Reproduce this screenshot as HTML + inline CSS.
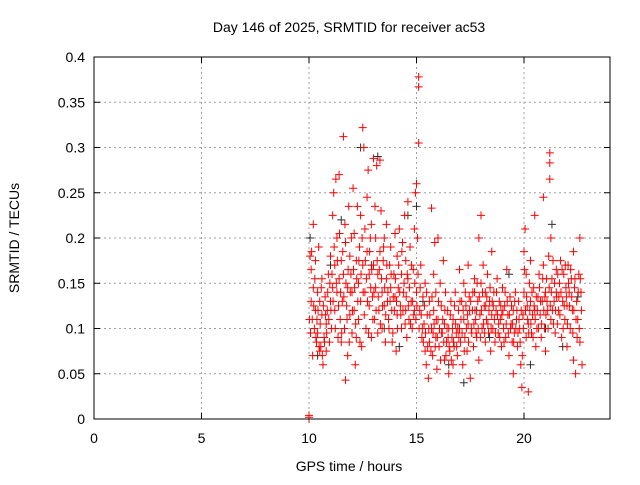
<!DOCTYPE html>
<html><head><meta charset="utf-8"><style>
body{margin:0;background:#fff;}
svg text{font-family:"Liberation Sans",sans-serif;font-size:14px;fill:#000;}
</style></head><body>
<svg id="chart" width="640" height="480" xmlns="http://www.w3.org/2000/svg">
<text x="349" y="32" text-anchor="middle">Day 146 of 2025, SRMTID for receiver ac53</text>
<text x="349" y="471" text-anchor="middle">GPS time / hours</text>
<text transform="translate(19,238) rotate(-90)" text-anchor="middle">SRMTID / TECUs</text>
<g id="grid"></g><g id="ticks"></g><g id="marks"></g>
<rect x="94" y="57" width="516" height="362" fill="none" stroke="#000" stroke-width="1"/>
</svg>
<script>
const xTicks=[0,5,10,15,20];
const yTicks=[0,0.05,0.1,0.15,0.2,0.25,0.3,0.35,0.4];
const yTickLabels=["0","0.05","0.1","0.15","0.2","0.25","0.3","0.35","0.4"];
const redPoints=[[10,0],[10,0.002],[10,0.004],[10.05,.18],[10.1,.13],[10.1,.165],[10.15,.11],[10.2,.145],[10.2,.215],[10.25,.10],[10.3,.12],[10.3,.175],[10.35,.085],[10.4,.095],[10.4,.14],[10.45,.19],[10.5,.075],[10.5,.13],[10.55,.08],[10.6,.115],[10.6,.155],[10.65,.06],[10.7,.09],[10.75,.135],[10.8,.105],[10.8,.075],[10.85,.12],[10.9,.16],[10.95,.085],[11.0,.13],[11.0,.18],[11.05,.1],[11.1,.145],[11.1,.225],[11.15,.25],[11.2,.17],[11.2,.12],[11.25,.265],[11.3,.2],[11.3,.14],[11.35,.09],[11.4,.155],[11.4,.27],[11.45,.11],[11.5,.175],[11.5,.085],[11.55,.13],[11.6,.312],[11.6,.16],[11.65,.1],[11.7,.043],[11.7,.195],[11.75,.125],[11.8,.145],[11.8,.07],[11.85,.235],[11.9,.115],[11.9,.18],[11.95,.16],[12.0,.095],[12.0,.14],[12.05,.255],[12.1,.205],[12.1,.12],[12.15,.06],[12.2,.175],[12.2,.09],[12.25,.235],[12.3,.15],[12.3,.11],[12.35,.19],[12.4,.13],[12.4,.225],[12.45,.08],[12.5,.322],[12.5,.17],[12.55,.3],[12.6,.21],[12.6,.14],[12.65,.1],[12.7,.185],[12.7,.245],[12.75,.275],[12.8,.125],[12.8,.16],[12.85,.2],[12.9,.09],[12.9,.215],[12.95,.135],[13.0,.17],[13.0,.288],[13.05,.11],[13.1,.2],[13.1,.145],[13.15,.28],[13.2,.16],[13.2,.095],[13.25,.12],[13.3,.185],[13.3,.286],[13.35,.23],[13.4,.14],[13.4,.1],[13.45,.175],[13.5,.125],[13.5,.2],[13.55,.085],[13.6,.155],[13.6,.215],[13.65,.13],[13.7,.11],[13.75,.17],[13.8,.145],[13.8,.19],[13.85,.12],[13.9,.095],[13.95,.16],[14.0,.135],[14.0,.205],[14.05,.075],[14.1,.115],[14.1,.18],[14.15,.145],[14.2,.21],[14.25,.125],[14.3,.16],[14.3,.1],[14.35,.195],[14.4,.14],[14.45,.225],[14.5,.12],[14.5,.175],[14.55,.09],[14.6,.155],[14.6,.24],[14.65,.11],[14.7,.19],[14.75,.13],[14.8,.1],[14.85,.165],[14.9,.21],[14.9,.12],[14.95,.25],[15.0,.26],[15.0,.14],[15.05,.2],[15.1,.378],[15.1,.367],[15.1,.305],[15.15,.12],[15.2,.17],[15.25,.09],[15.3,.135],[15.35,.105],[15.4,.075],[15.4,.15],[15.45,.06],[15.5,.115],[15.55,.045],[15.6,.13],[15.6,.085],[15.7,.1],[15.7,.233],[15.75,.07],[15.8,.16],[15.8,.12],[15.85,.195],[15.9,.09],[15.9,.14],[15.95,.055],[16.0,.11],[16.0,.2],[16.05,.08],[16.1,.15],[16.15,.125],[16.2,.095],[16.25,.175],[16.3,.065],[16.3,.105],[16.35,.14],[16.4,.085],[16.45,.12],[16.5,.05],[16.5,.1],[16.55,.075],[16.6,.13],[16.65,.09],[16.7,.06],[16.7,.11],[16.75,.08],[16.8,.14],[16.85,.095],[16.9,.07],[16.95,.12],[17.0,.1],[17.0,.165],[17.05,.085],[17.1,.13],[17.15,.06],[17.2,.11],[17.2,.15],[17.25,.09],[17.3,.125],[17.35,.075],[17.4,.17],[17.4,.105],[17.45,.135],[17.5,.045],[17.55,.1],[17.6,.12],[17.65,.08],[17.7,.155],[17.7,.14],[17.75,.11],[17.8,.09],[17.85,.13],[17.9,.2],[17.9,.065],[17.95,.115],[18.0,.225],[18.0,.15],[18.05,.1],[18.1,.17],[18.15,.125],[18.2,.085],[18.2,.14],[18.25,.11],[18.3,.16],[18.35,.095],[18.4,.13],[18.45,.075],[18.5,.115],[18.5,.185],[18.55,.1],[18.6,.14],[18.65,.085],[18.7,.12],[18.75,.155],[18.8,.095],[18.85,.13],[18.9,.11],[18.95,.08],[19.0,.145],[19.05,.1],[19.1,.125],[19.15,.09],[19.2,.165],[19.25,.115],[19.3,.07],[19.35,.135],[19.4,.105],[19.45,.085],[19.5,.12],[19.5,.05],[19.55,.095],[19.6,.14],[19.65,.11],[19.7,.08],[19.75,.13],[19.8,.1],[19.85,.06],[19.9,.035],[19.95,.115],[20.0,.14],[20.0,.185],[20.05,.21],[20.1,.09],[20.1,.16],[20.15,.125],[20.2,.03],[20.2,.105],[20.25,.15],[20.3,.13],[20.3,.175],[20.35,.095],[20.4,.115],[20.45,.145],[20.5,.12],[20.5,.225],[20.55,.08],[20.6,.1],[20.65,.135],[20.7,.16],[20.75,.115],[20.8,.09],[20.85,.13],[20.9,.17],[20.9,.245],[20.95,.1],[21.0,.14],[21.0,.075],[21.05,.155],[21.1,.12],[21.15,.18],[21.2,.294],[21.2,.283],[21.2,.265],[21.25,.2],[21.25,.11],[21.3,.155],[21.35,.175],[21.4,.13],[21.45,.095],[21.5,.14],[21.5,.165],[21.55,.105],[21.6,.12],[21.65,.15],[21.7,.175],[21.75,.09],[21.8,.13],[21.85,.16],[21.9,.11],[21.95,.145],[22.0,.125],[22.0,.08],[22.05,.17],[22.1,.14],[22.15,.1],[22.2,.155],[22.25,.12],[22.3,.065],[22.3,.185],[22.35,.145],[22.4,.05],[22.45,.13],[22.5,.11],[22.55,.16],[22.6,.085],[22.6,.2],[22.65,.14],[22.7,.06]];
const redPoints2=[[10.02,.11],[10.07,.095],[10.12,.185],[10.17,.07],[10.22,.125],[10.27,.155],[10.32,.09],[10.37,.11],[10.42,.12],[10.47,.08],[10.52,.105],[10.57,.145],[10.62,.07],[10.67,.125],[10.72,.085],[10.77,.115],[10.82,.095],[10.87,.14],[10.92,.11],[10.97,.15],[11.02,.12],[11.07,.16],[11.12,.13],[11.17,.19],[11.22,.1],[11.27,.15],[11.32,.175],[11.37,.125],[11.42,.205],[11.47,.14],[11.52,.095],[11.57,.185],[11.62,.135],[11.67,.215],[11.72,.15],[11.77,.11],[11.82,.165],[11.87,.085],[11.92,.14],[11.97,.2],[12.02,.12],[12.07,.165],[12.12,.145],[12.17,.105],[12.22,.155],[12.27,.13],[12.32,.175],[12.37,.085],[12.42,.16],[12.47,.2],[12.52,.14],[12.57,.115],[12.62,.175],[12.67,.155],[12.72,.13],[12.77,.095],[12.82,.185],[12.87,.145],[12.92,.165],[12.97,.11],[13.02,.14],[13.07,.235],[13.12,.12],[13.17,.175],[13.22,.135],[13.27,.165],[13.32,.105],[13.37,.155],[13.42,.125],[13.47,.19],[13.52,.145],[13.57,.115],[13.62,.17],[13.67,.14],[13.72,.1],[13.77,.13],[13.82,.16],[13.87,.085],[13.92,.135],[13.97,.12],[14.02,.155],[14.07,.13],[14.12,.1],[14.17,.17],[14.22,.14],[14.27,.115],[14.32,.185],[14.37,.12],[14.42,.15],[14.47,.105],[14.52,.135],[14.57,.16],[14.62,.125],[14.67,.145],[14.72,.105],[14.77,.17],[14.82,.13],[14.87,.115],[14.92,.15],[14.97,.11],[15.02,.125],[15.07,.16],[15.12,.1],[15.17,.145],[15.22,.115],[15.27,.1],[15.32,.085],[15.37,.125],[15.42,.095],[15.47,.14],[15.52,.08],[15.57,.1],[15.62,.115],[15.67,.075],[15.72,.135],[15.77,.095],[15.82,.105],[15.87,.08],[15.92,.11],[15.97,.09],[16.02,.13],[16.07,.1],[16.12,.065],[16.17,.095],[16.22,.11],[16.27,.085],[16.32,.12],[16.37,.07],[16.42,.1],[16.47,.09],[16.52,.08],[16.57,.115],[16.62,.065],[16.67,.1],[16.72,.085],[16.77,.125],[16.82,.105],[16.87,.08],[16.92,.1],[16.97,.09],[17.02,.13],[17.07,.11],[17.12,.095],[17.17,.12],[17.22,.075],[17.27,.14],[17.32,.1],[17.37,.115],[17.42,.085],[17.47,.12],[17.52,.13],[17.57,.095],[17.62,.14],[17.67,.105],[17.72,.12],[17.77,.095],[17.82,.15],[17.87,.1],[17.92,.135],[17.97,.09],[18.02,.12],[18.07,.14],[18.12,.105],[18.17,.095],[18.22,.125],[18.27,.135],[18.32,.105],[18.37,.12],[18.42,.145],[18.47,.1],[18.52,.13],[18.57,.125],[18.62,.11],[18.67,.095],[18.72,.14],[18.77,.115],[18.82,.105],[18.87,.09],[18.92,.125],[18.97,.115],[19.02,.12],[19.07,.085],[19.12,.14],[19.17,.105],[19.22,.13],[19.27,.095],[19.32,.115],[19.37,.1],[19.42,.125],[19.47,.105],[19.52,.085],[19.57,.13],[19.62,.1],[19.67,.12],[19.72,.095],[19.77,.11],[19.82,.085],[19.87,.12],[19.92,.07],[19.97,.1],[20.02,.165],[20.07,.12],[20.12,.135],[20.17,.11],[20.22,.095],[20.27,.12],[20.32,.105],[20.37,.14],[20.42,.09],[20.47,.125],[20.52,.11],[20.57,.135],[20.62,.12],[20.67,.1],[20.72,.145],[20.77,.13],[20.82,.105],[20.87,.155],[20.92,.12],[20.97,.135],[21.02,.115],[21.07,.13],[21.12,.1],[21.17,.145],[21.22,.125],[21.27,.14],[21.32,.12],[21.37,.105],[21.42,.15],[21.47,.12],[21.52,.135],[21.57,.16],[21.62,.135],[21.67,.115],[21.72,.14],[21.77,.165],[21.82,.1],[21.87,.125],[21.92,.17],[21.97,.135],[22.02,.105],[22.07,.15],[22.12,.125],[22.17,.165],[22.22,.135],[22.27,.095],[22.32,.12],[22.37,.155],[22.42,.11],[22.47,.09],[22.52,.14],[22.57,.1],[22.62,.155],[22.67,.12]];
const blackPoints=[[10.05,.2],[10.4,.07],[11.0,.17],[11.5,.22],[12.4,.3],[12.9,.17],[13.2,.29],[13.5,.1],[14.2,.08],[14.6,.225],[15.0,.235],[15.3,.13],[16.5,.06],[17.2,.04],[17.8,.12],[18.4,.09],[19.3,.16],[20.3,.06],[21.0,.1],[21.3,.215],[21.8,.08],[22.5,.135]];
const NS="http://www.w3.org/2000/svg";
const X0=94,X1=610,Y0=419,Y1=57,XMAX=24,YMAX=0.4;
function xs(t){return X0+t/XMAX*(X1-X0);}
function ys(v){return Y0-v/YMAX*(Y0-Y1);}
function mk(tag,attrs,parent){const e=document.createElementNS(NS,tag);for(const k in attrs)e.setAttribute(k,attrs[k]);parent.appendChild(e);return e;}
const grid=document.getElementById('grid'),ticks=document.getElementById('ticks'),marks=document.getElementById('marks');
xTicks.forEach(t=>{const x=xs(t);
 if(t>0){const g=mk('line',{x1:x,x2:x,y1:Y1,y2:Y0,stroke:'#a0a0a0','stroke-dasharray':'2,3'},grid);
 
 }
 mk('line',{x1:x,x2:x,y1:Y0,y2:Y0-6,stroke:'#000'},ticks);
 mk('line',{x1:x,x2:x,y1:Y1,y2:Y1+6,stroke:'#000'},ticks);
 const l=mk('text',{x:x,y:Y0+24,'text-anchor':'middle'},ticks);l.textContent=t;
 
 });
yTicks.forEach((v,i)=>{const y=ys(v);
 if(v>0&&v<YMAX){const g=mk('line',{x1:X0,x2:X1,y1:y,y2:y,stroke:'#a0a0a0','stroke-dasharray':'2,3'},grid);
 
 }
 mk('line',{x1:X0,x2:X0+6,y1:y,y2:y,stroke:'#000'},ticks);
 mk('line',{x1:X1,x2:X1-6,y1:y,y2:y,stroke:'#000'},ticks);
 const l=mk('text',{x:X0-9,y:y+5,'text-anchor':'end'},ticks);l.textContent=yTickLabels[i];
 
 });
function drawCross(p,color,name){const x=xs(p[0]),y=ys(p[1]);
 const e=mk('path',{d:`M${x-4},${y}H${x+4}M${x},${y-4}V${y+4}`,stroke:color,'stroke-width':1,fill:'none'},marks);
 
 }
blackPoints.forEach(p=>drawCross(p,'#303030','black-point'));
redPoints.forEach(p=>drawCross(p,'#ff0000','red-point'));
redPoints2.forEach(p=>drawCross(p,'#ff0000','red-point'));
</script>
</body></html>
